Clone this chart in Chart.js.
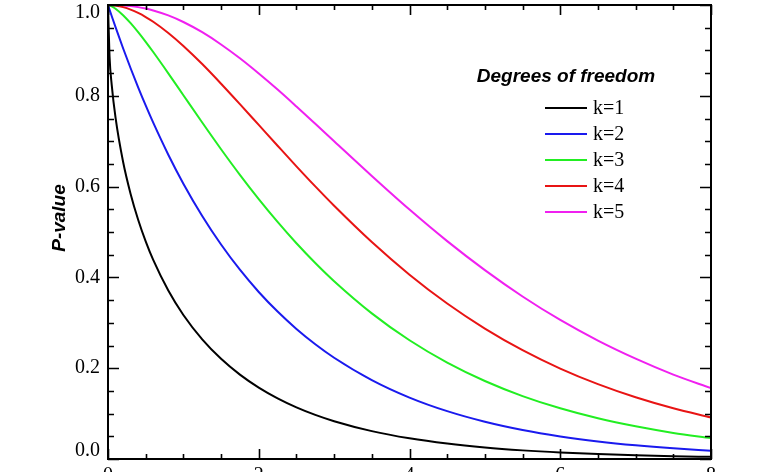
<!DOCTYPE html>
<html>
<head>
<meta charset="utf-8">
<script src="https://cdn.jsdelivr.net/npm/chart.js@4.4.1/dist/chart.umd.min.js"></script>
<style>
  html, body { margin: 0; padding: 0; background: #fff; overflow: hidden; }
  #wrap { width: 768px; height: 500px; }
</style>
</head>
<body>
<div id="wrap"><canvas id="chart" width="768" height="500"></canvas></div>
<script>
// --- data ---
const chiX = [0, 0.02, 0.05, 0.1, 0.2, 0.3, 0.4, 0.5, 0.6, 0.8, 1, 1.25, 1.5, 1.75, 2, 2.25, 2.5, 2.75, 3, 3.5, 4, 4.5, 5, 5.5, 6, 6.5, 7, 7.5, 8]
const pK1 = [1, 0.8875, 0.8231, 0.7518, 0.6547, 0.5839, 0.5271, 0.4795, 0.4386, 0.3711, 0.3173, 0.2636, 0.2207, 0.1859, 0.1573, 0.1336, 0.1138, 0.0972, 0.0833, 0.0614, 0.0455, 0.0339, 0.0253, 0.0190, 0.0143, 0.0108, 0.0082, 0.0062, 0.0047]
const pK2 = [1, 0.9900, 0.9753, 0.9512, 0.9048, 0.8607, 0.8187, 0.7788, 0.7408, 0.6703, 0.6065, 0.5353, 0.4724, 0.4169, 0.3679, 0.3247, 0.2865, 0.2528, 0.2231, 0.1738, 0.1353, 0.1054, 0.0821, 0.0639, 0.0498, 0.0388, 0.0302, 0.0235, 0.0183]
const pK3 = [1, 0.9992, 0.9971, 0.9918, 0.9776, 0.9600, 0.9402, 0.9189, 0.8964, 0.8495, 0.8012, 0.7411, 0.6823, 0.6259, 0.5724, 0.5222, 0.4752, 0.4317, 0.3916, 0.3208, 0.2615, 0.2123, 0.1718, 0.1386, 0.1116, 0.0897, 0.0720, 0.0575, 0.0460]
const pK4 = [1, 1.0000, 0.9997, 0.9988, 0.9953, 0.9898, 0.9825, 0.9735, 0.9631, 0.9384, 0.9098, 0.8699, 0.8266, 0.7816, 0.7358, 0.6900, 0.6446, 0.6004, 0.5578, 0.4779, 0.4060, 0.3425, 0.2873, 0.2397, 0.1991, 0.1648, 0.1359, 0.1117, 0.0916]
const pK5 = [1, 0.9999, 0.9999, 0.9998, 0.9991, 0.9976, 0.9953, 0.9921, 0.9880, 0.9771, 0.9626, 0.9401, 0.9131, 0.8826, 0.8491, 0.8137, 0.7764, 0.7383, 0.6999, 0.6234, 0.5494, 0.4799, 0.4160, 0.3579, 0.3062, 0.2607, 0.2209, 0.1858, 0.1561]

const seriesLabels = ['k=1', 'k=2', 'k=3', 'k=4', 'k=5']
const seriesValues = [pK1, pK2, pK3, pK4, pK5]
const seriesColors = ['#000000', '#1a1aee', '#22ee22', '#e81414', '#f020f0']

const yTickValues = [0, 0.2, 0.4, 0.6, 0.8, 1.0]
const xTickValues = [0, 2, 4, 6, 8]
const legendTitle = 'Degrees of freedom'
const yTitle = 'P-value'

const SERIF = "'Liberation Serif', 'Times New Roman', serif"
const SANS = "'Liberation Sans', Arial, sans-serif"

// frame, inward ticks, tick labels, axis title
const framePlugin = {
    id: 'frame',
    afterDatasetsDraw(chart) {
        const { ctx, chartArea: a, scales: { x, y } } = chart
        ctx.save()
        ctx.strokeStyle = '#000'
        ctx.lineWidth = 2
        ctx.strokeRect(a.left, a.top, a.right - a.left, a.bottom - a.top)

        ctx.lineWidth = 1.6
        ctx.beginPath()
        for (let v = 0; v <= 8.001; v += 0.5) {
            const px = Math.round(x.getPixelForValue(v)) + 0.5
            const len = Math.abs(v % 2) < 0.001 ? 10 : 5
            ctx.moveTo(px, a.bottom); ctx.lineTo(px, a.bottom - len)
            ctx.moveTo(px, a.top); ctx.lineTo(px, a.top + len)
        }
        for (let i = 0; i <= 20; i++) {
            const v = i * 0.05
            const py = Math.round(y.getPixelForValue(v)) + 0.5
            const len = i % 4 === 0 ? 11 : 6
            ctx.moveTo(a.left, py); ctx.lineTo(a.left + len, py)
            ctx.moveTo(a.right, py); ctx.lineTo(a.right - len, py)
        }
        ctx.stroke()

        ctx.fillStyle = '#000'
        ctx.font = `20px ${SERIF}`
        ctx.textAlign = 'right'
        ctx.textBaseline = 'middle'
        yTickValues.forEach(v => {
            let py = y.getPixelForValue(v)
            py = Math.min(Math.max(py, a.top + 8), a.bottom - 8)
            ctx.fillText(v.toFixed(1), a.left - 8, py)
        })

        ctx.textAlign = 'center'
        ctx.textBaseline = 'alphabetic'
        xTickValues.forEach(v => {
            ctx.fillText(String(v), x.getPixelForValue(v), a.bottom + 22)
        })

        ctx.translate(60, 218)
        ctx.rotate(-Math.PI / 2)
        ctx.textAlign = 'center'
        ctx.textBaseline = 'middle'
        ctx.font = `italic bold 19px ${SANS}`
        ctx.fillText(yTitle, 0, 0)
        ctx.restore()
    }
}

const legendPlugin = {
    id: 'kLegend',
    afterDatasetsDraw(chart) {
        const { ctx } = chart
        ctx.save()
        ctx.fillStyle = '#000'
        ctx.textBaseline = 'middle'
        ctx.textAlign = 'center'
        ctx.font = `italic bold 19px ${SANS}`
        ctx.fillText(legendTitle, 566, 77)

        ctx.textAlign = 'left'
        ctx.font = `20px ${SERIF}`
        chart.data.datasets.forEach((ds, i) => {
            const ly = 108 + i * 26
            ctx.strokeStyle = ds.borderColor
            ctx.lineWidth = 2
            ctx.beginPath()
            ctx.moveTo(545, ly); ctx.lineTo(587, ly)
            ctx.stroke()
            ctx.fillStyle = '#000'
            ctx.fillText(ds.label, 593, ly + 1)
        })
        ctx.restore()
    }
}

new Chart(document.getElementById('chart'), {
    type: 'line',
    data: {
        datasets: seriesLabels.map((label, i) => ({
            label,
            data: chiX.map((xv, j) => ({ x: xv, y: seriesValues[i][j] })),
            borderColor: seriesColors[i],
            borderWidth: 2,
            pointRadius: 0,
            fill: false,
            cubicInterpolationMode: 'monotone',
        }))
    },
    options: {
        responsive: false,
        animation: false,
        layout: { padding: { left: 0, right: 57, top: 5, bottom: 0 } },
        plugins: { legend: { display: false }, tooltip: { enabled: false } },
        scales: {
            x: {
                type: 'linear', min: 0, max: 8,
                grid: { display: false }, border: { display: false },
                ticks: { display: false, stepSize: 2 },
                afterFit: s => { s.height = 41 }
            },
            y: {
                min: 0, max: 1,
                grid: { display: false }, border: { display: false },
                ticks: { display: false },
                afterFit: s => { s.width = 108 }
            }
        }
    },
    plugins: [framePlugin, legendPlugin]
})
</script>
</body>
</html>
